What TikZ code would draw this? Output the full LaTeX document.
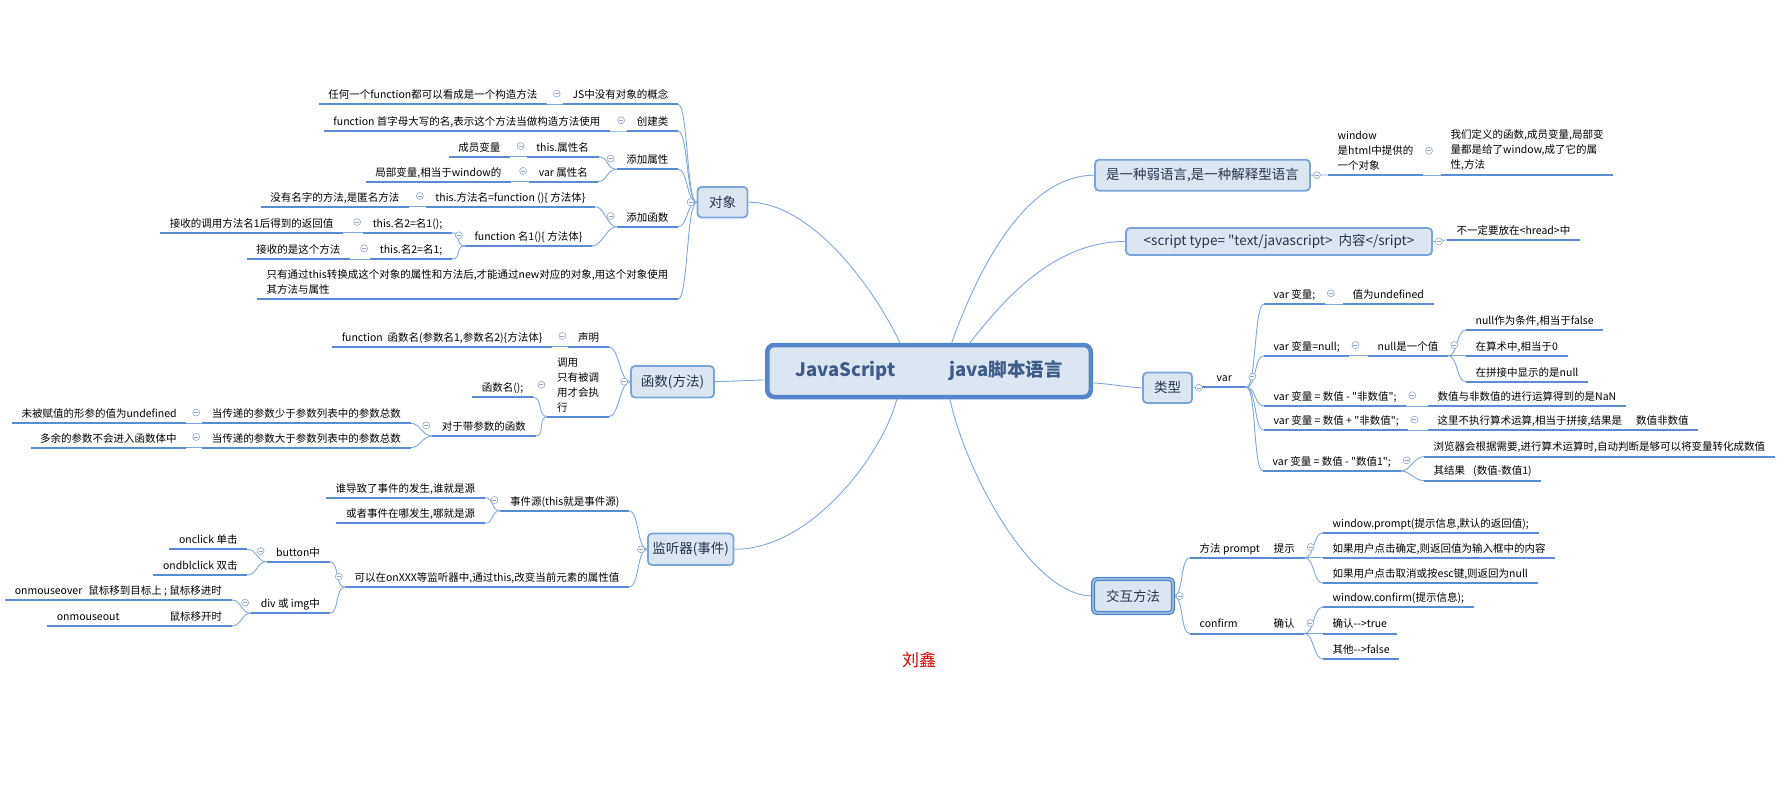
\documentclass[tikz,border=0pt]{standalone}
\usepackage{fontspec}
\setmainfont{Noto Sans CJK SC}
\newfontfamily\plainfont{Noto Sans CJK SC}
\pgfdeclarelayer{bg}
\pgfsetlayers{bg,main}
\definecolor{lineblue}{HTML}{5B8BD3}
\definecolor{connblue}{HTML}{7EA7DD}
\definecolor{boxfill}{HTML}{DCE6F2}
\definecolor{boxline}{HTML}{7BA4DB}
\definecolor{rootline}{HTML}{5585CC}
\definecolor{roottext}{HTML}{3D5C8A}
\definecolor{branchtext}{HTML}{27344A}
\definecolor{togline}{HTML}{8EA6C6}
\definecolor{authorred}{HTML}{E00000}

\begin{document}
\begin{tikzpicture}[x=1pt,y=-1pt,
  leaf/.style={font=\fontsize{10.5}{15}\selectfont, inner xsep=9.5pt, inner ysep=3pt,
    text height=8.5pt, text depth=2.5pt,
    append after command={(\tikzlastnode.south west) edge[uline] (\tikzlastnode.south east)}},
  lleaf/.style={leaf, anchor=south east},
  rleaf/.style={leaf, anchor=south west},
  multi/.style={align=left, text height=, text depth=, inner ysep=4.5pt},
  uline/.style={draw=lineblue, line width=2pt},
  conn/.style={draw=connblue, line width=0.9pt,
    to path={.. controls +(10,0) and +(-10,0) .. (\tikztotarget)}},
  tog/.style={circle, draw=togline, fill=white, line width=0.6pt, minimum size=7pt, inner sep=0pt,
    path picture={\draw[togline, line width=0.6pt] ([xshift=-2pt]path picture bounding box.center)
      -- ([xshift=2pt]path picture bounding box.center);}},
  ltog/.style={append after command={node[tog] at ([shift={(-6,#1)}]\tikzlastnode.west) {}}},
  ltog/.default=-2,
  rtog/.style={append after command={node[tog] at ([shift={(6,#1)}]\tikzlastnode.east) {}}},
  rtog/.default=-2,
  topic/.style={draw=boxline, line width=1.8pt, fill=boxfill, rounded corners=4pt,
    font=\fontsize{13.5}{16}\selectfont, text=branchtext, inner sep=0pt},
  root/.style={draw=rootline, line width=4.5pt, fill=boxfill, rounded corners=7pt,
    font=\fontsize{18.5}{22}\selectfont\bfseries, text=roottext,
    minimum width=323.5pt, minimum height=52pt}]
\useasboundingbox (0,0) rectangle (1790,789);

\node[root] (root) at (929,371) {JavaScript\hspace{54pt}java脚本语言};

\node[topic, minimum width=50pt, minimum height=30.5pt, ltog=0] (obj) at (722.5,202.2) {对象};
\node[lleaf, ltog] (js) at (678,104.3) {JS中没有对象的概念};
\node[lleaf] (js1) at (547,104.3) {任何一个function都可以看成是一个构造方法};
\node[lleaf, ltog] (cjl) at (678,131) {创建类};
\node[lleaf] (cjl1) at (610,131) {function 首字母大写的名,表示这个方法当做构造方法使用};
\node[lleaf, ltog] (tjsx) at (678,169.3) {添加属性};
\node[lleaf, ltog] (sx1) at (598.5,156.7) {this.属性名};
\node[lleaf] (sx1a) at (510,156.7) {成员变量};
\node[lleaf, ltog] (sx2) at (597.6,181.7) {var 属性名};
\node[lleaf] (sx2a) at (511,181.7) {局部变量,相当于window的};
\node[lleaf, ltog] (tjhs) at (678,226.7) {添加函数};
\node[lleaf, ltog] (hs1) at (595,206.7) {this.方法名=function ()\{ 方法体\}};
\node[lleaf] (hs1a) at (409,206.7) {没有名字的方法,是匿名方法};
\node[lleaf, ltog] (hs2) at (592,246) {function 名1()\{ 方法体\}};
\node[lleaf, ltog] (hs2a) at (452,232.7) {this.名2=名1();};
\node[lleaf] (hs2a1) at (343,232.7) {接收的调用方法名1后得到的返回值};
\node[lleaf, ltog] (hs2b) at (452,259) {this.名2=名1;};
\node[lleaf] (hs2b1) at (350,259) {接收的是这个方法};
\node[lleaf, multi] (note) at (678,299.3)
  {只有通过this转换成这个对象的属性和方法后,才能通过new对应的对象,用这个对象使用\\其方法与属性};

\node[topic, minimum width=83pt, minimum height=31.5pt, ltog=0] (fn) at (672.5,381.7) {函数(方法)};
\node[lleaf, ltog] (sm) at (608.8,346.7) {声明};
\node[lleaf] (sm1) at (552,346.7) {function\ \ 函数名(参数名1,参数名2)\{方法体\}};
\node[lleaf, multi, ltog=0] (dy) at (608.8,416.7) {调用\\只有被调\\用才会执\\行};
\node[lleaf] (dy1) at (533,397.3) {函数名();};
\node[lleaf, ltog] (dy2) at (535.6,436) {对于带参数的函数};
\node[lleaf, ltog] (dy2a) at (410.6,423.3) {当传递的参数少于参数列表中的参数总数};
\node[lleaf] (dy2a1) at (186.4,423.3) {未被赋值的形参的值为undefined};
\node[lleaf, ltog] (dy2b) at (410.6,447.7) {当传递的参数大于参数列表中的参数总数};
\node[lleaf] (dy2b1) at (186.4,447.7) {多余的参数不会进入函数体中};

\node[topic, minimum width=85.5pt, minimum height=31.5pt, ltog=0] (lis) at (690.7,549.3) {监听器(事件)};
\node[lleaf, ltog] (src) at (629,510.7) {事件源(this就是事件源)};
\node[lleaf] (src1) at (484.7,497.7) {谁导致了事件的发生,谁就是源};
\node[lleaf] (src2) at (484.7,523.3) {或者事件在哪发生,哪就是源};
\node[lleaf, ltog] (onx) at (629,587.3) {可以在onXXX等监听器中,通过this,改变当前元素的属性值};
\node[lleaf, ltog] (btn) at (329.6,561.7) {button中};
\node[lleaf] (btn1) at (247.2,549.3) {onclick 单击};
\node[lleaf] (btn2) at (247.2,575) {ondblclick 双击};
\node[lleaf, ltog] (div) at (329.6,613.3) {div 或 img中};
\node[lleaf] (div1) at (231.7,600) {onmouseover\hspace{6pt}鼠标移到目标上 ; 鼠标移进时};
\node[lleaf] (div2) at (231.7,626) {onmouseout\hspace{50pt}鼠标移开时};

\node[topic, minimum width=215pt, minimum height=31pt, rtog=0] (weak) at (1202.5,175.2) {是一种弱语言,是一种解释型语言};
\node[rleaf, multi, rtog=0] (win) at (1328,175) {window\\是html中提供的\\一个对象};
\node[rleaf, multi] (win1) at (1441,175) {我们定义的函数,成员变量,局部变\\量都是给了window,成了它的属\\性,方法};

\node[topic, minimum width=306pt, minimum height=27pt, rtog=0] (scr) at (1279,241.5) {\plainfont <script type= "text/javascript>\ \ 内容</sript>};
\node[rleaf] (scr1) at (1447,240) {不一定要放在<hread>中};

\node[topic, minimum width=49pt, minimum height=30.5pt, rtog=0] (type) at (1167.5,387.8) {类型};
\node[rleaf, rtog, minimum width=44pt] (var) at (1202,387.3) {var};
\node[rleaf, rtog] (v1) at (1264,304) {var 变量;};
\node[rleaf] (v1a) at (1343,304) {值为undefined};
\node[rleaf, rtog] (v2) at (1264,355.7) {var 变量=null;};
\node[rleaf, rtog] (v2a) at (1368,355.7) {null是一个值};
\node[rleaf] (v2a1) at (1466,330) {null作为条件,相当于false};
\node[rleaf] (v2a2) at (1466,355.7) {在算术中,相当于0};
\node[rleaf] (v2a3) at (1466,381.7) {在拼接中显示的是null};
\node[rleaf, rtog] (v3) at (1264,406) {\plainfont var 变量 = 数值 - "非数值";};
\node[rleaf] (v3a) at (1428,406) {数值与非数值的进行运算得到的是NaN};
\node[rleaf, rtog] (v4) at (1264,430.3) {\plainfont var 变量 = 数值 + "非数值";};
\node[rleaf] (v4a) at (1428,430.3) {这里不执行算术运算,相当于拼接,结果是\hspace{14pt}数值非数值};
\node[rleaf, rtog] (v5) at (1263,471) {\plainfont var 变量 = 数值 - "数值1";};
\node[rleaf] (v5a) at (1424,456.6) {浏览器会根据需要,进行算术运算时,自动判断是够可以将变量转化成数值};
\node[rleaf] (v5b) at (1424,480.6) {其结果\hspace{8pt}(数值-数值1)};

\node[topic, draw=rootline, line width=1.5pt, double=boxline!55, double distance=1.2pt,
  minimum width=80pt, minimum height=34pt, rtog=0] (ia) at (1133,596) {交互方法};
\node[rleaf, rtog] (pr) at (1190,557.7) {方法 prompt\hspace{14pt}提示};
\node[rleaf] (pr1) at (1323,532.7) {window.prompt(提示信息,默认的返回值);};
\node[rleaf] (pr2) at (1323,557.7) {如果用户点击确定,则返回值为输入框中的内容};
\node[rleaf] (pr3) at (1323,583.3) {如果用户点击取消或按esc键,则返回为null};
\node[rleaf, rtog] (cf) at (1190,633.6) {confirm\hspace{36pt}确认};
\node[rleaf] (cf1) at (1323,607) {window.confirm(提示信息);};
\node[rleaf] (cf2) at (1323,633.6) {\plainfont 确认-->true};
\node[rleaf] (cf3) at (1323,659) {\plainfont 其他-->false};

\node[text=authorred, font=\fontsize{17}{20}\selectfont] (author) at (919,660) {刘鑫};

\begin{pgfonlayer}{bg}
\draw[conn] (obj.east) .. controls +(60,0) and +(-30,-62) .. ([shift={(-29,0)}]root.north);
\draw[conn] ([shift={(22.7,0)}]root.north) .. controls +(25,-70) and +(-70,0) .. (weak.west);
\draw[conn] ([shift={(41,0)}]root.north) .. controls +(35,-45) and +(-70,0) .. (scr.west);
\draw[conn] (lis.east) .. controls +(80,0) and +(-12,50) .. ([shift={(-32.3,0)}]root.south);
\draw[conn] ([shift={(21,0)}]root.south) .. controls +(15,71) and +(-61,0) .. (ia.west);
\path[conn]
  (fn.east) edge ([shift={(0,9)}]root.west)
  ([shift={(0,12)}]root.east) edge (type.west);
\path[conn]
  (js.south east) edge (obj.west)
  (cjl.south east) edge (obj.west)
  (tjsx.south east) edge (obj.west)
  (tjhs.south east) edge (obj.west)
  (note.south east) edge (obj.west)
  (js1.south east) edge (js.south west)
  (cjl1.south east) edge (cjl.south west)
  (sx1.south east) edge (tjsx.south west)
  (sx2.south east) edge (tjsx.south west)
  (sx1a.south east) edge (sx1.south west)
  (sx2a.south east) edge (sx2.south west)
  (hs1.south east) edge (tjhs.south west)
  (hs2.south east) edge (tjhs.south west)
  (hs1a.south east) edge (hs1.south west)
  (hs2a.south east) edge (hs2.south west)
  (hs2b.south east) edge (hs2.south west)
  (hs2a1.south east) edge (hs2a.south west)
  (hs2b1.south east) edge (hs2b.south west);
\path[conn]
  (sm.south east) edge (fn.west)
  (dy.south east) edge (fn.west)
  (sm1.south east) edge (sm.south west)
  (dy1.south east) edge (dy.south west)
  (dy2.south east) edge (dy.south west)
  (dy2a.south east) edge (dy2.south west)
  (dy2b.south east) edge (dy2.south west)
  (dy2a1.south east) edge (dy2a.south west)
  (dy2b1.south east) edge (dy2b.south west);
\path[conn]
  (src.south east) edge (lis.west)
  (onx.south east) edge (lis.west)
  (src1.south east) edge (src.south west)
  (src2.south east) edge (src.south west)
  (btn.south east) edge (onx.south west)
  (div.south east) edge (onx.south west)
  (btn1.south east) edge (btn.south west)
  (btn2.south east) edge (btn.south west)
  (div1.south east) edge (div.south west)
  (div2.south east) edge (div.south west);
\path[conn]
  (weak.east) edge (win.south west)
  (win.south east) edge (win1.south west)
  (scr.east) edge (scr1.south west)
  (type.east) edge (var.south west)
  (var.south east) edge (v1.south west)
  (var.south east) edge (v2.south west)
  (var.south east) edge (v3.south west)
  (var.south east) edge (v4.south west)
  (var.south east) edge (v5.south west)
  (v1.south east) edge (v1a.south west)
  (v2.south east) edge (v2a.south west)
  (v2a.south east) edge (v2a1.south west)
  (v2a.south east) edge (v2a2.south west)
  (v2a.south east) edge (v2a3.south west)
  (v3.south east) edge (v3a.south west)
  (v4.south east) edge (v4a.south west)
  (v5.south east) edge (v5a.south west)
  (v5.south east) edge (v5b.south west);
\path[conn]
  (ia.east) edge (pr.south west)
  (ia.east) edge (cf.south west)
  (pr.south east) edge (pr1.south west)
  (pr.south east) edge (pr2.south west)
  (pr.south east) edge (pr3.south west)
  (cf.south east) edge (cf1.south west)
  (cf.south east) edge (cf2.south west)
  (cf.south east) edge (cf3.south west);
\end{pgfonlayer}
\end{tikzpicture}
\end{document}
